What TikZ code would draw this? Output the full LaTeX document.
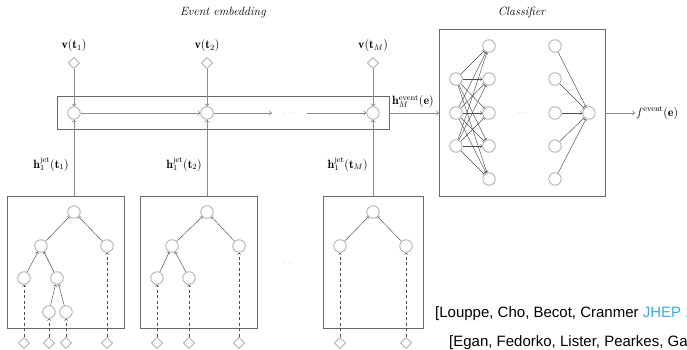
\documentclass[tikz,border=0pt]{standalone}
\usepackage{amsmath,amssymb}
\usepackage{fontspec}
\newfontfamily\citefont{Liberation Sans}
\usetikzlibrary{shapes.geometric}
\definecolor{nodegray}{RGB}{178,178,178}
\definecolor{boxgray}{RGB}{105,105,105}
\definecolor{edgegray}{RGB}{75,75,75}
\definecolor{feedgray}{RGB}{140,140,140}
\definecolor{jhepblue}{RGB}{60,170,225}
\tikzset{
  neuron/.style={circle,draw=nodegray,line width=0.9pt,minimum size=12.5pt,inner sep=0pt},
  leaf/.style={diamond,draw=nodegray,line width=0.9pt,minimum size=11.5pt,inner sep=0pt},
  frame/.style={draw=boxgray,line width=0.8pt},
  link/.style={->,draw=edgegray,line width=0.45pt},
  dlink/.style={->,draw=edgegray,line width=0.45pt,dash pattern=on 3pt off 2.5pt},
  feed/.style={->,draw=feedgray,line width=0.9pt},
  lbl/.style={font=\large,inner sep=1pt},
  dots/.style={font=\scriptsize,text=feedgray,inner sep=0pt},
  cite/.style={anchor=base west,inner sep=0pt,font=\citefont\fontsize{15}{18}\selectfont}
}

\begin{document}
\begin{tikzpicture}[x=1pt,y=-1pt]
                \clip (0,0) rectangle (687,350);
                % event embedding
                \node[lbl] (evt) at (223,13) {\textit{Event embedding}};
                \draw[frame] (57,96) rectangle (389,129);
                \node[neuron] (r1) at (74,113) {};
                \node[neuron] (r2) at (207,113) {};
                \node[neuron] (rM) at (373,113) {};
                \node[leaf] (v1) at (74,63) {};
                \node[leaf] (v2) at (207,63) {};
                \node[leaf] (vM) at (373,63) {};
                \node[lbl] at (74,46) {$\mathbf{v}(\mathbf{t}_1)$};
                \node[lbl] at (207,46) {$\mathbf{v}(\mathbf{t}_2)$};
                \node[lbl] at (373,46) {$\mathbf{v}(\mathbf{t}_M)$};
                \draw[feed] (v1) -- (r1);
                \draw[feed] (v2) -- (r2);
                \draw[feed] (vM) -- (rM);
                \node[dots] (rdots) at (289,113) {$\cdots$};
                \coordinate (ra) at (272,113);
                \coordinate (rb) at (307,113);
                \draw[feed] (r1) -- (r2);
                \draw[feed] (r2) -- (ra);
                \draw[feed] (rb) -- (rM);
                \coordinate (rowout) at (389,113);
                \coordinate (clsin) at (439,113);
                \draw[feed] (rowout) -- (clsin);
                \node[lbl,anchor=south west,inner sep=0pt] (hev) at (392,108) {$\mathbf{h}^{\text{event}}_M(\mathbf{e})$};

                % classifier
                \node[lbl] (cls) at (522,13) {\textit{Classifier}};
                \draw[frame] (439,29) rectangle (605,196);
                \foreach \i/\y in {1/79,2/113,3/146}
                    \node[neuron] (i\i) at (456,\y) {};
                \foreach \j/\y in {1/46,2/79,3/113,4/146,5/179} {
                    \node[neuron] (h\j) at (489,\y) {};
                    \node[neuron] (k\j) at (555,\y) {};
                }
                \node[neuron] (o) at (589,113) {};
                \foreach \i in {1,2,3}
                    \foreach \j in {1,...,5}
                        \draw[link] (i\i) -- (h\j);
                \foreach \j in {1,...,5}
                    \draw[link] (k\j) -- (o);
                \node[dots] (cdots) at (523,113) {$\cdots$};
                \coordinate (clsout) at (605,113);
                \node[lbl,anchor=west] (f) at (635,113) {$f^{\text{event}}(\mathbf{e})$};
                \draw[feed] (clsout) -- (f);

                % jet 1
                \draw[frame] (7,196) rectangle (124,328);
                \node[neuron] (a) at (74,212) {};
                \node[neuron] (al) at (41,246) {};
                \node[neuron] (ar) at (107,246) {};
                \node[neuron] (all) at (24,278) {};
                \node[neuron] (alr) at (57,278) {};
                \node[neuron] (alrl) at (49,312) {};
                \node[neuron] (alrr) at (66,312) {};
                \foreach \p/\c in {a/al,a/ar,al/all,al/alr,alr/alrl,alr/alrr}
                    \draw[link] (\c) -- (\p);
                \foreach \x/\c in {24/all,49/alrl,66/alrr,107/ar} {
                    \node[leaf] (x\c) at (\x,343) {};
                    \draw[dlink] (x\c) -- (\c);
                }
                \coordinate (j1) at (74,196);
                \draw[feed] (j1) -- (r1);
                \node[lbl,anchor=east] at (70,164) {$\mathbf{h}^{\text{jet}}_1(\mathbf{t}_1)$};

                % jet 2
                \draw[frame] (140,196) rectangle (257,328);
                \node[neuron] (b) at (207,212) {};
                \node[neuron] (bl) at (172,246) {};
                \node[neuron] (br) at (239,246) {};
                \node[neuron] (bll) at (157,278) {};
                \node[neuron] (blr) at (189,278) {};
                \foreach \p/\c in {b/bl,b/br,bl/bll,bl/blr}
                    \draw[link] (\c) -- (\p);
                \foreach \x/\c in {157/bll,189/blr,239/br} {
                    \node[leaf] (x\c) at (\x,343) {};
                    \draw[dlink] (x\c) -- (\c);
                }
                \coordinate (j2) at (207,196);
                \draw[feed] (j2) -- (r2);
                \node[lbl,anchor=east] at (203,164) {$\mathbf{h}^{\text{jet}}_1(\mathbf{t}_2)$};

                \node[dots] (jdots) at (289,263) {$\cdots$};

                % jet M
                \draw[frame] (323,196) rectangle (423,328);
                \node[neuron] (m) at (373,212) {};
                \node[neuron] (ml) at (340,246) {};
                \node[neuron] (mr) at (406,246) {};
                \foreach \p/\c in {m/ml,m/mr}
                    \draw[link] (\c) -- (\p);
                \foreach \x/\c in {340/ml,406/mr} {
                    \node[leaf] (x\c) at (\x,343) {};
                    \draw[dlink] (x\c) -- (\c);
                }
                \coordinate (jM) at (373,196);
                \draw[feed] (jM) -- (rM);
                \node[lbl,anchor=east] at (369,164) {$\mathbf{h}^{\text{jet}}_1(\mathbf{t}_M)$};

                % references
                \node[cite] (ref1) at (435,317) {[Louppe, Cho, Becot, Cranmer \textcolor{jhepblue}{JHEP 1}};
                \node[cite] (ref2) at (449,346) {[Egan, Fedorko, Lister, Pearkes, Gay};
            \end{tikzpicture}
\end{document}
